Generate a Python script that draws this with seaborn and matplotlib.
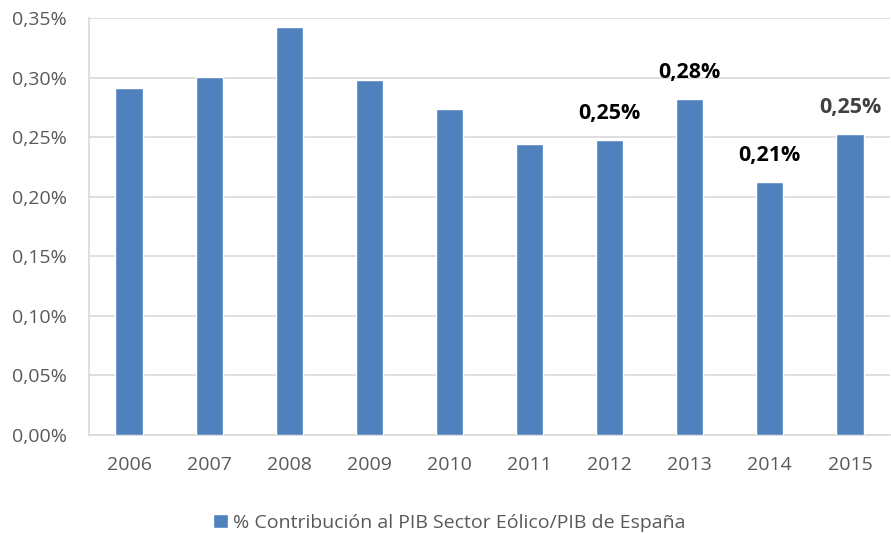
import matplotlib
matplotlib.use('Agg')
import matplotlib.pyplot as plt
import seaborn as sns
import pandas as pd
from matplotlib import ticker

# ── Data ──────────────────────────────────────────────────────────────────────

years = ['2006', '2007', '2008', '2009', '2010', '2011', '2012', '2013', '2014', '2015']
contribucion = [0.291, 0.3005, 0.3425, 0.298, 0.2735, 0.2445, 0.2475, 0.282, 0.2125, 0.2525]
labelled_years = ['2012', '2013', '2014', '2015']
serie = '% Contribución al PIB Sector Eólico/PIB de España'

df = pd.DataFrame({'Año': years, 'Contribución': contribucion})

# ── Plot ──────────────────────────────────────────────────────────────────────

sns.set_theme(style='white')
plt.rcParams['font.family'] = ['Open Sans', 'DejaVu Sans']

fig = plt.figure(figsize=(8.91, 5.33), dpi=100)
ax = fig.add_axes([89 / 891, 1 - 435 / 533, 801 / 891, 417 / 533])

sns.barplot(data=df, x='Año', y='Contribución', color='#4F81BD', width=0.34,
            saturation=1, ax=ax, label=serie, zorder=3)

ax.set_ylim(0, 0.35)
ax.set_xlim(-0.5, len(years) - 0.5)
ax.yaxis.set_major_locator(ticker.MultipleLocator(0.05))
ax.yaxis.set_major_formatter(ticker.FuncFormatter(lambda v, p: f'{v:.2f}%'.replace('.', ',')))
ax.grid(axis='y', color='#D9D9D9', linewidth=1.2, zorder=0)
ax.set_xlabel('')
ax.set_ylabel('')

for s in ['top', 'right']:
    ax.spines[s].set_visible(False)
ax.spines['left'].set_color('#D9D9D9')
ax.spines['bottom'].set_color('#D9D9D9')
ax.spines['left'].set_linewidth(1.2)
ax.spines['bottom'].set_linewidth(1.2)

ax.tick_params(axis='both', length=0, labelsize=14, labelcolor='#595959')
ax.tick_params(axis='x', pad=15)
ax.tick_params(axis='y', pad=16)

for i, (yr, v) in enumerate(zip(years, contribucion)):
    if yr in labelled_years:
        col = '#404040' if yr == '2015' else 'black'
        ax.annotate(f'{v:.2f}%'.replace('.', ','), (i, v), xytext=(0, 19),
                    textcoords='offset points', ha='center', va='center',
                    fontsize=15.5, fontweight='bold', color=col)

leg = ax.legend(loc='center', bbox_to_anchor=(0.45, -0.21), frameon=False,
                fontsize=14, handlelength=0.75, handleheight=0.75, handletextpad=0.3)
for t in leg.get_texts():
    t.set_color('#595959')

fig.savefig('out.png', dpi=100)
